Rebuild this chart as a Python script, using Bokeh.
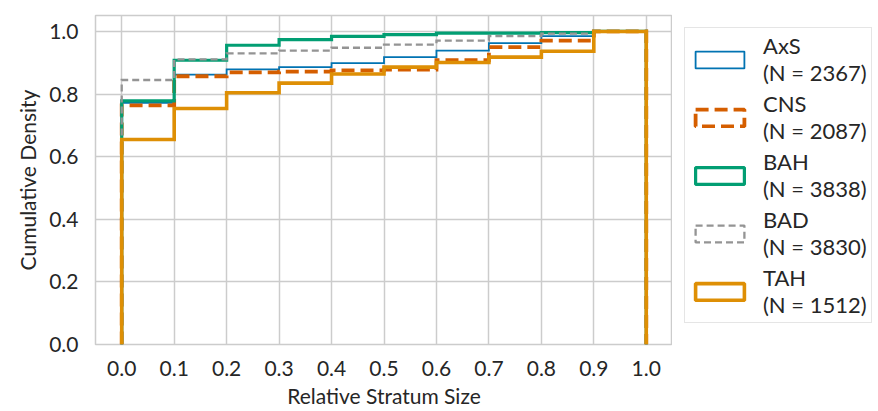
from bokeh.plotting import figure
from bokeh.layouts import row
from bokeh.models import Legend, LegendItem, FixedTicker, Range1d
from bokeh.embed import file_html
from bokeh.resources import INLINE

bin_edges = [0.0, 0.1, 0.2, 0.3, 0.4, 0.5, 0.6, 0.7, 0.8, 0.9, 1.0]
series_names = ["AxS", "CNS", "BAH", "BAD", "TAH"]
series_counts = [2367, 2087, 3838, 3830, 1512]
axs = [0.772, 0.862, 0.879, 0.886, 0.899, 0.918, 0.939, 0.963, 0.985, 1.0]
cns = [0.764, 0.857, 0.869, 0.872, 0.876, 0.878, 0.908, 0.950, 0.971, 1.0]
bah = [0.778, 0.908, 0.956, 0.974, 0.984, 0.990, 0.995, 0.995, 0.996, 1.0]
bad = [0.845, 0.911, 0.930, 0.939, 0.948, 0.958, 0.971, 0.985, 0.993, 1.0]
tah = [0.655, 0.754, 0.804, 0.835, 0.864, 0.886, 0.901, 0.918, 0.937, 1.0]
x_ticks = [0.0, 0.1, 0.2, 0.3, 0.4, 0.5, 0.6, 0.7, 0.8, 0.9, 1.0]
y_ticks = [0.0, 0.2, 0.4, 0.6, 0.8, 1.0]

colors = ["#0173b2", "#d55e00", "#029e73", "#949494", "#de8f05"]
widths = [1.8, 3.8, 3.2, 2.3, 3.6]
dashes = ["solid", "13 6", "solid", "7 4", "solid"]
values = [axs, cns, bah, bad, tah]

FONT = "Lato"
TXT = "#262626"
H = 410
TOP = 15
BOTTOM = 65

p = figure(width=672, height=H, output_backend="svg", toolbar_location=None,
           x_range=Range1d(-0.05, 1.05), y_range=Range1d(0, 1.051),
           min_border_left=95, min_border_top=TOP, min_border_bottom=BOTTOM,
           min_border_right=0)
p.background_fill_color = "white"
p.border_fill_color = "white"
p.outline_line_color = "#cccccc"
p.outline_line_width = 1.5

for ax in (p.xaxis[0], p.yaxis[0]):
    ax.axis_line_color = None
    ax.major_tick_line_color = None
    ax.minor_tick_line_color = None
    ax.major_tick_in = 0
    ax.major_tick_out = 0
    ax.minor_tick_in = 0
    ax.minor_tick_out = 0
    ax.major_label_text_font = FONT
    ax.major_label_text_font_size = "21px"
    ax.major_label_text_color = TXT
    ax.axis_label_text_font = FONT
    ax.axis_label_text_font_size = "21px"
    ax.axis_label_text_font_style = "normal"
    ax.axis_label_text_color = TXT

p.xaxis[0].ticker = FixedTicker(ticks=x_ticks)
p.yaxis[0].ticker = FixedTicker(ticks=y_ticks)
p.xaxis[0].major_label_overrides = {t: f"{t:.1f}" for t in x_ticks}
p.yaxis[0].major_label_overrides = {t: f"{t:.1f}" for t in y_ticks}
p.xaxis[0].major_label_standoff = 16
p.xaxis[0].axis_label_standoff = 4
p.yaxis[0].major_label_standoff = 17
p.yaxis[0].axis_label_standoff = 6
p.xaxis[0].axis_label = "Relative Stratum Size"
p.yaxis[0].axis_label = "Cumulative Density"

for g in (p.xgrid[0], p.ygrid[0]):
    g.grid_line_color = "#cccccc"
    g.grid_line_width = 1.5

# legend figure
lf = figure(width=204, height=H, output_backend="svg", toolbar_location=None,
            x_axis_type=None, y_axis_type=None,
            x_range=Range1d(0, 1), y_range=Range1d(0, 1),
            min_border_left=0, min_border_right=0, min_border_top=TOP,
            min_border_bottom=BOTTOM)
lf.outline_line_color = None
lf.background_fill_color = "white"
lf.border_fill_color = "white"

items = []
off = bin_edges[-1] + 5.0  # legend swatch data kept outside the visible range
for name, n, vals, c, w, d in zip(series_names, series_counts, values, colors, widths, dashes):
    xs = [bin_edges[0]]
    ys = [0.0]
    for i, v in enumerate(vals):
        xs += [bin_edges[i], bin_edges[i + 1]]
        ys += [v, v]
    xs.append(bin_edges[-1])
    ys.append(0.0)
    p.line(xs, ys, line_color=c, line_width=w, line_dash=d, line_join="miter")
    swatch = lf.quad(left=[off], right=[off + 0.1], top=[off + 0.1], bottom=[off],
                     fill_alpha=0, line_color=c, line_width=w, line_dash=d)
    items.append(LegendItem(label=f"{name}\n(N = {n})", renderers=[swatch]))

legend = Legend(items=items, location="top_left")
legend.label_text_font = FONT
legend.label_text_font_size = "22px"
legend.label_text_color = TXT
legend.label_text_line_height = 1.0
legend.glyph_width = 61
legend.glyph_height = 21
legend.label_standoff = 13
legend.spacing = 4
legend.padding = 4
legend.margin = 12
legend.border_line_color = "#cccccc"
legend.border_line_width = 1.2
legend.background_fill_color = "white"
lf.add_layout(legend, "center")

layout = row(p, lf)
open("out.html", "w").write(file_html(layout, INLINE))
